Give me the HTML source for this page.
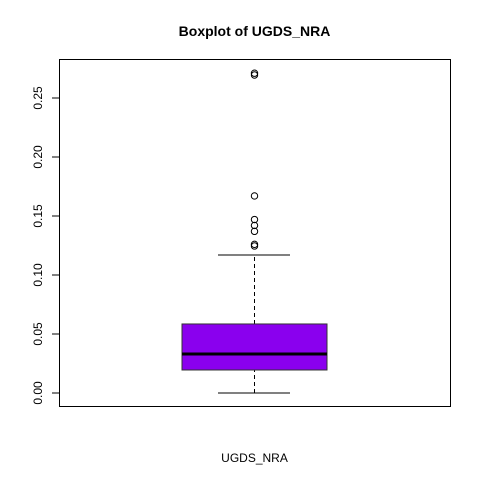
<!DOCTYPE html>
<html><head><meta charset="utf-8"><style>body{margin:0;background:#fff}svg{display:block}</style></head>
<body>
<svg width="480" height="480" font-family="'Liberation Sans', sans-serif">
<text x="254.5" y="36" text-anchor="middle" font-weight="bold" font-size="14">Boxplot of UGDS_NRA</text>
<rect x="59.5" y="59.5" width="391" height="347" fill="none" stroke="#000"/>
<text x="254.5" y="462" text-anchor="middle" font-size="12">UGDS_NRA</text>
<g id="yaxis"></g>
<g id="box"></g>
</svg>
<script>
const ticks=[0,0.05,0.10,0.15,0.20,0.25];
const tickLabels=["0.00","0.05","0.10","0.15","0.20","0.25"];
const stats=[0,0.0195,0.033,0.0585,0.117]; // lower whisker, Q1, median, Q3, upper whisker
const outliers=[0.271,0.2695,0.167,0.147,0.142,0.137,0.126,0.1246];
const NS="http://www.w3.org/2000/svg";
const y=v=>393-v*1180;
const cx=254.5,bl=182,br=327,cl=218,cr=290;
function mk(t,a,p){const e=document.createElementNS(NS,t);for(const k in a)e.setAttribute(k,a[k]);p.appendChild(e);return e;}
const ya=document.getElementById('yaxis');
const ln=mk('line',{x1:59.5,x2:59.5,y1:y(ticks[0]),y2:y(ticks[ticks.length-1]),stroke:'#000'},ya);


ticks.forEach((t,i)=>{
 const l=mk('line',{x1:52,x2:59.5,y1:y(t),y2:y(t),stroke:'#000'},ya);
 
 
 const tx=mk('text',{x:0,y:0,'font-size':12,'text-anchor':'middle',transform:`translate(42,${y(t)}) rotate(-90)`},ya);
 tx.textContent=tickLabels[i];
 
 
});
const g=document.getElementById('box');
const w1=mk('line',{x1:cx,x2:cx,y1:y(stats[0]),y2:y(stats[1]),stroke:'#000','stroke-dasharray':'4,3'},g);


const w2=mk('line',{x1:cx,x2:cx,y1:y(stats[3]),y2:y(stats[4]),stroke:'#000','stroke-dasharray':'4,3'},g);


const c1=mk('line',{x1:cl,x2:cr,y1:y(stats[0]),y2:y(stats[0]),stroke:'#000'},g);


const c2=mk('line',{x1:cl,x2:cr,y1:y(stats[4]),y2:y(stats[4]),stroke:'#000'},g);


const r=mk('rect',{x:bl,y:y(stats[3]),width:br-bl,height:y(stats[1])-y(stats[3]),fill:'#8A00EE',stroke:'#333'},g);


const m=mk('line',{x1:bl,x2:br,y1:y(stats[2]),y2:y(stats[2]),stroke:'#000','stroke-width':3},g);


outliers.forEach(o=>{
 const c=mk('circle',{cx:cx,cy:y(o),r:3.2,fill:'none',stroke:'#000'},g);
 
 
});
</script>
</body></html>
